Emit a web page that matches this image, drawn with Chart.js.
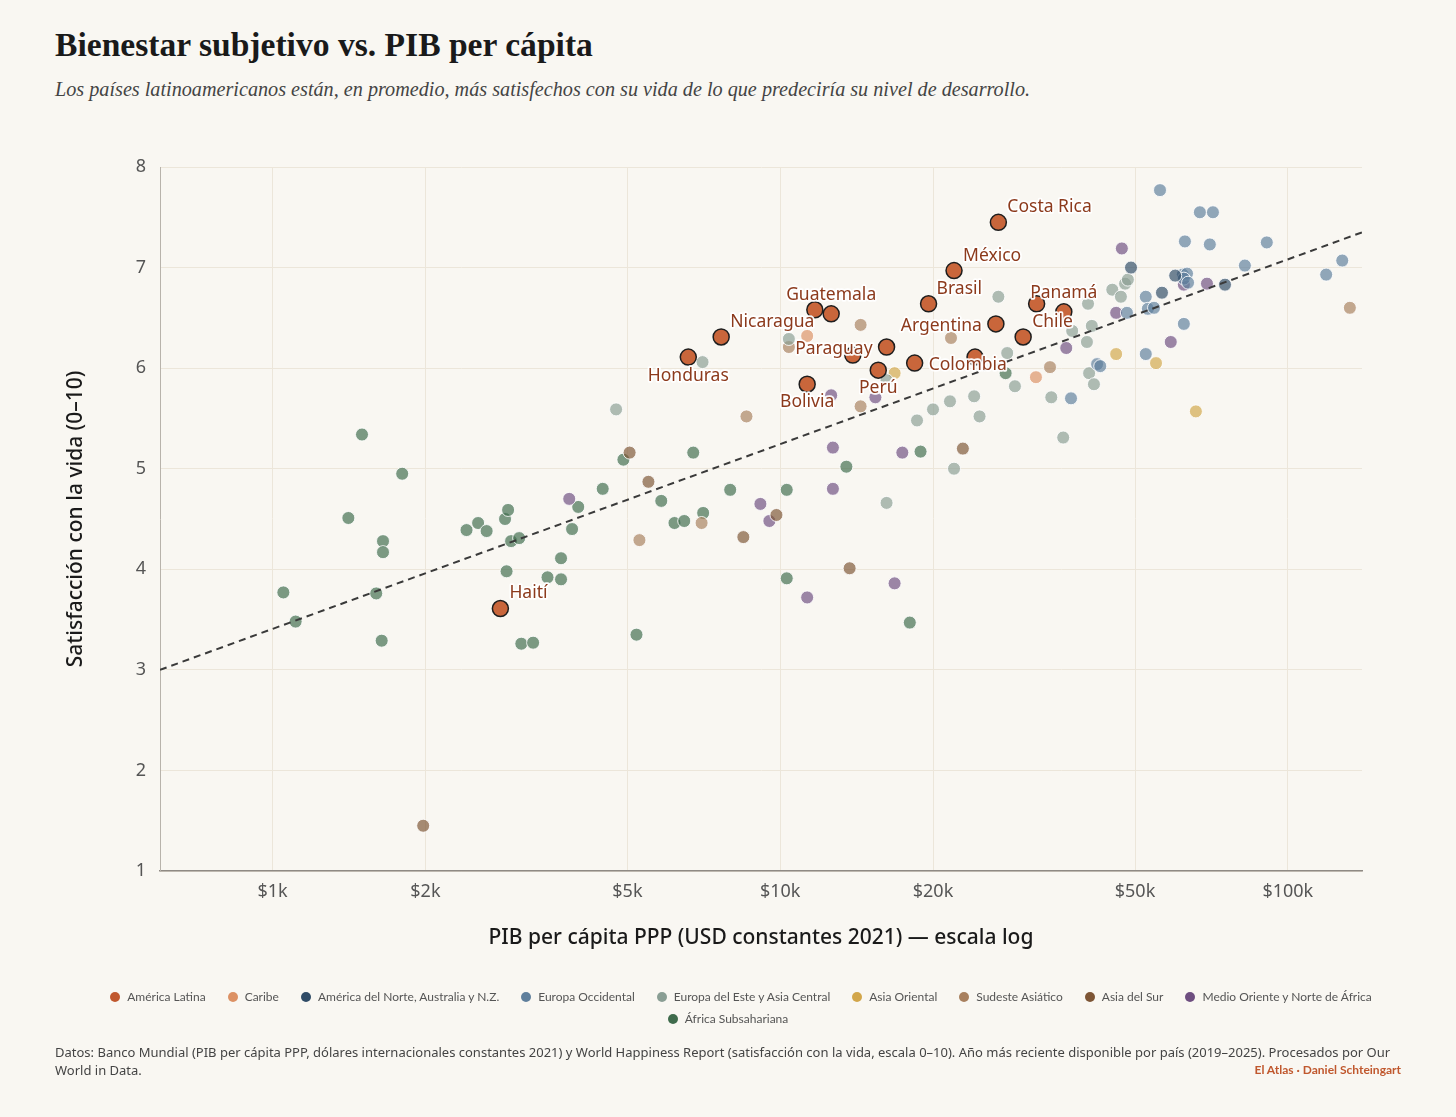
<!DOCTYPE html>
<html lang="es">
<head>
<meta charset="utf-8">
<title>Bienestar subjetivo vs. PIB per cápita</title>
<script src="https://cdn.jsdelivr.net/npm/chart.js@4.4.1/dist/chart.umd.min.js"></script>
<style>
  html, body { margin: 0; padding: 0; background: #f9f7f2; }
  body { width: 1456px; height: 1117px; position: relative; overflow: hidden; font-family: "Noto Sans", sans-serif; }
  #grafico { position: absolute; left: 0; top: 0; }
  .titulo { position: absolute; left: 55px; top: 26px; margin: 0; font: bold 33.6px/38px "Liberation Serif", serif; color: #1a1a1a; }
  .subtitulo { position: absolute; left: 55px; top: 77px; margin: 0; font: italic 20.2px/24px "Liberation Serif", serif; color: #444; }
  .leyenda { position: absolute; left: 0; width: 1456px; display: flex; justify-content: center; font: 12px/16px Lato, sans-serif; color: #555; }
  .leyenda .item { display: flex; align-items: center; margin: 0 11px; }
  .leyenda .punto { width: 10px; height: 10px; border-radius: 50%; margin-right: 7px; }
  .fuente { position: absolute; left: 55px; top: 1043px; font: 13px/18px "Noto Sans", sans-serif; color: #444; }
  .firma { position: absolute; right: 55px; top: 1061px; font: bold 12px/18px Lato, sans-serif; color: #c0582e; }
</style>
</head>
<body>
<h1 class="titulo">Bienestar subjetivo vs. PIB per cápita</h1>
<p class="subtitulo">Los países latinoamericanos están, en promedio, más satisfechos con su vida de lo que predeciría su nivel de desarrollo.</p>
<canvas id="grafico" width="1456" height="1117"></canvas>
<div class="leyenda" id="fila1" style="top:989px; padding-left:26px; box-sizing:border-box;"></div>
<div class="leyenda" id="fila2" style="top:1011px;"></div>
<div class="fuente">Datos: Banco Mundial (PIB per cápita PPP, dólares internacionales constantes 2021) y World Happiness Report (satisfacción con la vida, escala 0–10). Año más reciente disponible por país (2019–2025). Procesados por Our<br>World in Data.</div>
<div class="firma">El Atlas · Daniel Schteingart</div>

<script>
// Datos: PIB per cápita PPP (USD 2021) y satisfacción con la vida (0-10)

// América Latina
const latamNames = ['Costa Rica', 'México', 'Brasil', 'Guatemala', 'El Salvador', 'Nicaragua', 'Honduras', 'Bolivia', 'Paraguay', 'Perú', 'Ecuador', 'Colombia', 'Rep. Dominicana', 'Argentina', 'Chile', 'Uruguay', 'Panamá', 'Haití'];
const latamGdp = [26900, 22000, 19600, 12600, 11700, 7650, 6590, 11300, 16200, 15600, 13900, 18400, 24200, 26600, 30100, 32000, 36200, 2810];
const latamLife = [7.45, 6.97, 6.64, 6.54, 6.58, 6.31, 6.11, 5.84, 6.21, 5.98, 6.13, 6.05, 6.11, 6.44, 6.31, 6.64, 6.56, 3.61];

// Caribe
const caribeGdp = [11300, 31900];
const caribeLife = [6.32, 5.91];

// América del Norte, Australia y N.Z.
const norteGdp = [49100, 56500, 60000, 75200];
const norteLife = [7.00, 6.75, 6.92, 6.83];

// Europa Occidental
const eurOccGdp = [56000, 67100, 71200, 62700, 70200, 90900, 82300, 128000, 119000, 62100, 63300, 62400, 63600, 52500, 48200, 53000, 54500, 62400, 52500, 42100, 42700, 37400];
const eurOccLife = [7.77, 7.55, 7.55, 7.26, 7.23, 7.25, 7.02, 7.07, 6.93, 6.93, 6.94, 6.89, 6.85, 6.71, 6.55, 6.59, 6.60, 6.44, 6.14, 6.04, 6.02, 5.70];

// Europa del Este y Asia Central
const eurEsteGdp = [4750, 7030, 10400, 16200, 16200, 18600, 20000, 21600, 22000, 24100, 24700, 26900, 28000, 29000, 34200, 36100, 37600, 40200, 41100, 40400, 40600, 41500, 45100, 46900, 47800, 48400];
const eurEsteLife = [5.59, 6.06, 6.29, 4.66, 5.88, 5.48, 5.59, 5.67, 5.00, 5.72, 5.52, 6.71, 6.15, 5.82, 5.71, 5.31, 6.37, 6.26, 6.42, 6.64, 5.95, 5.84, 6.78, 6.71, 6.84, 6.88];

// Asia Oriental
const asiaOrGdp = [16800, 45900, 55000, 65900];
const asiaOrLife = [5.95, 6.14, 6.05, 5.57];

// Sudeste Asiático
const sudesteGdp = [5280, 7000, 8580, 10400, 14400, 14400, 21700, 34000, 132500];
const sudesteLife = [4.29, 4.46, 5.52, 6.21, 6.43, 5.62, 6.30, 6.01, 6.60];

// Asia del Sur
const asiaSurGdp = [1980, 5050, 5500, 8460, 9830, 13700, 22900];
const asiaSurLife = [1.45, 5.16, 4.87, 4.32, 4.54, 4.01, 5.20];

// Medio Oriente y Norte de África
const menaGdp = [3840, 9140, 9520, 11300, 12600, 12700, 12700, 15400, 16800, 17400, 36600, 45900, 47100, 58800, 62400, 69300];
const menaLife = [4.70, 4.65, 4.48, 3.72, 5.73, 5.21, 4.80, 5.71, 3.86, 5.16, 6.20, 6.55, 7.19, 6.26, 6.83, 6.84];

// África Subsahariana
const africaGdp = [1050, 1110, 1410, 1500, 1600, 1640, 1650, 1650, 1800, 2410, 2540, 2640, 2870, 2910, 2890, 2950, 3060, 3090, 3260, 3480, 3700, 3700, 3890, 4000, 4470, 4910, 5210, 5830, 6190, 6470, 6740, 7050, 7970, 10300, 10300, 13500, 18000, 18900, 27800];
const africaLife = [3.77, 3.48, 4.51, 5.34, 3.76, 3.29, 4.28, 4.17, 4.95, 4.39, 4.46, 4.38, 4.50, 4.59, 3.98, 4.28, 4.31, 3.26, 3.27, 3.92, 4.11, 3.90, 4.40, 4.62, 4.80, 5.09, 3.35, 4.68, 4.46, 4.48, 5.16, 4.56, 4.79, 4.79, 3.91, 5.02, 3.47, 5.17, 5.95];

// Línea de tendencia (extremos)
const trendGdp = [600, 140000];
const trendLife = [3.0, 7.35];

// Ejes
const xTickValues = [1000, 2000, 5000, 10000, 20000, 50000, 100000];
const xTickLabels = ['$1k', '$2k', '$5k', '$10k', '$20k', '$50k', '$100k'];
const yTickValues = [1, 2, 3, 4, 5, 6, 7, 8];

// Colores por región
const regiones = [
    { nombre: 'América Latina', color: '#c0582e' },
    { nombre: 'Caribe', color: '#dc9164' },
    { nombre: 'América del Norte, Australia y N.Z.', color: '#2f4b66' },
    { nombre: 'Europa Occidental', color: '#5f7f9c' },
    { nombre: 'Europa del Este y Asia Central', color: '#8a9e94' },
    { nombre: 'Asia Oriental', color: '#d2a64a' },
    { nombre: 'Sudeste Asiático', color: '#a8805e' },
    { nombre: 'Asia del Sur', color: '#7d5535' },
    { nombre: 'Medio Oriente y Norte de África', color: '#6e4e80' },
    { nombre: 'África Subsahariana', color: '#3f6b4c' }
];

// Ubicación de etiquetas respecto del punto (px)
const labelPlacement = {
    'Costa Rica': { dx: 9, dy: -15, align: 'left' },
    'México': { dx: 9, dy: -15, align: 'left' },
    'Brasil': { dx: 8, dy: -15, align: 'left' },
    'Guatemala': { dx: 0, dy: -19, align: 'center' },
    'Nicaragua': { dx: 9, dy: -15, align: 'left' },
    'Honduras': { dx: 0, dy: 19, align: 'center' },
    'Bolivia': { dx: 0, dy: 18, align: 'center' },
    'Paraguay': { dx: -14, dy: 2, align: 'right' },
    'Perú': { dx: 0, dy: 18, align: 'center' },
    'Colombia': { dx: 14, dy: 2, align: 'left' },
    'Argentina': { dx: -14, dy: 2, align: 'right' },
    'Chile': { dx: 9, dy: -15, align: 'left' },
    'Panamá': { dx: 0, dy: -19, align: 'center' },
    'Haití': { dx: 9, dy: -15, align: 'left' }
};

function toPoints(xs, ys) {
    return xs.map((x, i) => ({ x: x, y: ys[i] }));
}

function hexToRgba(hex, a) {
    const n = parseInt(hex.slice(1), 16);
    return 'rgba(' + (n >> 16) + ',' + ((n >> 8) & 255) + ',' + (n & 255) + ',' + a + ')';
}

function regionDataset(idx, xs, ys) {
    const r = regiones[idx];
    return {
        label: r.nombre,
        data: toPoints(xs, ys),
        backgroundColor: hexToRgba(r.color, 0.68),
        borderColor: 'rgba(255,255,255,0.85)',
        borderWidth: 1,
        pointRadius: 6.5,
        pointHoverRadius: 8
    };
}

// Leyenda HTML
function buildLegend() {
    const fila1 = document.getElementById('fila1');
    const fila2 = document.getElementById('fila2');
    regiones.forEach((r, i) => {
        const item = document.createElement('div');
        item.className = 'item';
        item.innerHTML = '<span class="punto" style="background:' + r.color + '"></span>' + r.nombre;
        (i < 9 ? fila1 : fila2).appendChild(item);
    });
}

// Etiquetas de países latinoamericanos
const latamLabels = {
    id: 'latamLabels',
    afterDatasetsDraw(chart) {
        const meta = chart.getDatasetMeta(0);
        const c = chart.ctx;
        c.save();
        c.font = '17.5px "Noto Sans"';
        c.textBaseline = 'middle';
        c.lineJoin = 'round';
        meta.data.forEach((pt, i) => {
            const name = latamNames[i];
            const place = labelPlacement[name];
            if (!place) return;
            const x = pt.x + place.dx;
            const y = pt.y + place.dy;
            c.textAlign = place.align;
            c.strokeStyle = 'rgba(255,255,255,0.95)';
            c.lineWidth = 3.5;
            c.strokeText(name, x, y);
            c.fillStyle = '#8c3a1c';
            c.fillText(name, x, y);
        });
        c.restore();
    }
};

function initChart() {
    buildLegend();

    const datasets = [
        {
            label: regiones[0].nombre,
            data: toPoints(latamGdp, latamLife),
            backgroundColor: '#c9663b',
            borderColor: '#1e1e1e',
            borderWidth: 1.5,
            pointRadius: 8,
            pointHoverRadius: 9
        },
        {
            type: 'line',
            label: 'Tendencia',
            data: toPoints(trendGdp, trendLife),
            borderColor: '#3a3a3a',
            borderWidth: 2,
            borderDash: [7, 5],
            pointRadius: 0,
            fill: false
        },
        regionDataset(1, caribeGdp, caribeLife),
        regionDataset(2, norteGdp, norteLife),
        regionDataset(3, eurOccGdp, eurOccLife),
        regionDataset(4, eurEsteGdp, eurEsteLife),
        regionDataset(5, asiaOrGdp, asiaOrLife),
        regionDataset(6, sudesteGdp, sudesteLife),
        regionDataset(7, asiaSurGdp, asiaSurLife),
        regionDataset(8, menaGdp, menaLife),
        regionDataset(9, africaGdp, africaLife)
    ];

    new Chart(document.getElementById('grafico'), {
        type: 'scatter',
        data: { datasets: datasets },
        plugins: [latamLabels],
        options: {
            responsive: false,
            animation: false,
            layout: { padding: { left: 0, right: 94, top: 167, bottom: 166 } },
            plugins: {
                legend: { display: false },
                tooltip: {
                    callbacks: {
                        label: function(context) {
                            return context.dataset.label + ': $' + Math.round(context.parsed.x).toLocaleString('es-AR') + ' · ' + context.parsed.y.toFixed(2);
                        }
                    }
                }
            },
            scales: {
                x: {
                    type: 'logarithmic',
                    min: 600,
                    max: 140000,
                    afterBuildTicks: function(scale) {
                        scale.ticks = xTickValues.map(v => ({ value: v }));
                    },
                    afterFit: function(scale) {
                        scale.height = 80;
                    },
                    grid: { color: '#ece6da', lineWidth: 1, drawTicks: false },
                    border: { color: '#8f8a84', width: 1.5 },
                    ticks: {
                        autoSkip: false,
                        maxRotation: 0,
                        padding: 10,
                        color: '#555',
                        font: { family: '"Noto Sans"', size: 18 },
                        callback: function(value) {
                            const i = xTickValues.indexOf(value);
                            return i >= 0 ? xTickLabels[i] : '';
                        }
                    },
                    title: {
                        display: true,
                        text: 'PIB per cápita PPP (USD constantes 2021) — escala log',
                        color: '#1a1a1a',
                        font: { family: '"Noto Sans"', size: 21, weight: '500' },
                        padding: { top: 0, bottom: 0 }
                    }
                },
                y: {
                    min: 1,
                    max: 8,
                    afterBuildTicks: function(scale) {
                        scale.ticks = yTickValues.map(v => ({ value: v }));
                    },
                    afterFit: function(scale) {
                        scale.width = 160;
                    },
                    grid: { color: '#ece6da', lineWidth: 1, drawTicks: false },
                    border: { color: '#b8b3ab', width: 1 },
                    ticks: {
                        padding: 14,
                        color: '#555',
                        font: { family: '"Noto Sans"', size: 18 }
                    },
                    title: {
                        display: true,
                        text: 'Satisfacción con la vida (0–10)',
                        color: '#1a1a1a',
                        font: { family: '"Noto Sans"', size: 21, weight: '500' },
                        padding: { top: 63, bottom: 0 }
                    }
                }
            }
        }
    });
}

initChart();
</script>
</body>
</html>
